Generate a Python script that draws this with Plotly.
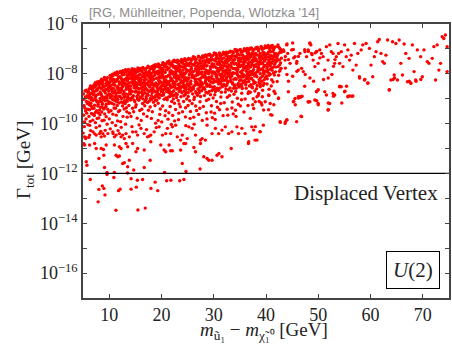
import plotly.graph_objects as go

# Each point: (m_u1 - m_chi1 [GeV], log10(Gamma_tot / GeV))
dense_5_13 = [
(5.07,-8.81),(5.63,-8.66),(5.34,-9.37),(5.91,-8.74),(5.18,-9.02),(5.72,-9.58),(5.45,-8.93),(5.26,-10.12),(5.84,-9.19),(5.12,-9.66),(5.58,-9.81),(5.39,-8.69),(5.95,-10.04),(5.21,-9.28),(5.67,-9.11),(5.03,-10.38),(5.49,-9.49),(5.79,-8.88),(5.31,-9.93),(5.55,-10.56),(5.15,-10.81),(5.88,-9.42),
(6.42,-8.49),(6.08,-8.97),(6.77,-8.62),(6.25,-9.44),(6.93,-9.07),(6.56,-8.78),(6.14,-9.71),(6.69,-9.33),(6.35,-8.58),(6.87,-9.86),(6.02,-8.71),(6.51,-9.18),(6.81,-8.51),(6.29,-10.07),(6.62,-9.59),(6.19,-9.24),(6.96,-8.84),(6.46,-10.28),(6.73,-9.02),(6.11,-10.55),(6.58,-8.95),(6.38,-9.91),
(7.13,-8.44),(7.66,-8.33),(7.41,-8.91),(7.88,-8.57),(7.22,-9.26),(7.54,-8.68),(7.03,-8.79),(7.79,-9.13),(7.35,-8.36),(7.6,-9.48),(7.17,-9.67),(7.93,-8.82),(7.47,-9.04),(7.28,-8.52),(7.71,-9.79),(7.09,-9.38),(7.52,-10.16),(7.84,-9.29),(7.38,-9.96),(7.64,-8.62),(7.25,-10.41),(7.97,-9.57),
(8.06,-8.31),(8.53,-8.22),(8.81,-8.47),(8.29,-8.73),(8.67,-8.91),(8.14,-9.11),(8.44,-8.39),(8.92,-8.66),(8.36,-9.34),(8.72,-9.22),(8.21,-8.56),(8.58,-9.53),(8.03,-9.77),(8.87,-9.02),(8.48,-8.84),(8.65,-9.88),(8.18,-10.09),(8.95,-9.41),(8.39,-10.31),(8.77,-8.27),(8.25,-9.64),(8.61,-9.14),
(9.11,-8.15),(9.57,-8.29),(9.34,-8.62),(9.82,-8.43),(9.05,-8.51),(9.68,-8.87),(9.22,-9.08),(9.46,-8.21),(9.91,-9.19),(9.29,-8.77),(9.74,-9.42),(9.16,-9.61),(9.53,-8.98),(9.87,-8.69),(9.38,-9.31),(9.02,-9.86),(9.62,-10.02),(9.43,-9.72),(9.79,-8.34),(9.25,-10.27),(9.95,-9.53),(9.49,-8.4),
(10.19,-8.07),(10.63,-8.02),(10.41,-8.46),(10.88,-8.23),(10.07,-8.35),(10.55,-8.71),(10.32,-8.92),(10.79,-8.58),(10.12,-9.14),(10.67,-9.03),(10.45,-8.18),(10.94,-9.37),(10.26,-8.83),(10.71,-9.62),(10.36,-9.48),(10.03,-9.81),(10.59,-9.96),(10.84,-8.41),(10.22,-10.21),(10.49,-8.64),(10.91,-9.22),(10.14,-8.55),(10.75,-10.4),
(11.08,-7.97),(11.52,-7.92),(11.83,-8.14),(11.27,-8.31),(11.66,-8.52),(11.14,-8.68),(11.42,-8.05),(11.95,-8.42),(11.33,-8.87),(11.74,-8.75),(11.03,-9.06),(11.58,-8.22),(11.89,-9.17),(11.21,-9.38),(11.47,-8.97),(11.79,-9.51),(11.36,-9.66),(11.11,-8.46),(11.62,-9.89),(11.93,-8.61),(11.25,-10.07),(11.55,-9.27),(11.7,-10.28),
(12.16,-7.9),(12.62,-7.87),(12.38,-8.21),(12.87,-8.03),(12.05,-8.12),(12.51,-8.47),(12.29,-8.66),(12.78,-8.34),(12.11,-8.91),(12.69,-8.82),(12.44,-7.98),(12.93,-9.08),(12.23,-8.58),(12.57,-9.29),(12.34,-9.13),(12.82,-8.71),(12.02,-9.47),(12.65,-9.71),(12.47,-8.29),(12.19,-9.92),(12.89,-9.41),(12.55,-8.39),(12.31,-10.15),
(13.12,-7.83),(13.58,-7.89),(13.35,-8.16),(13.83,-7.97),(13.04,-8.38),(13.49,-8.29),(13.26,-8.62),(13.71,-8.51),(13.17,-8.81),(13.64,-8.07),(13.41,-9.02),(13.94,-8.73),(13.08,-9.19),(13.53,-8.94),(13.3,-9.36),(13.77,-9.27),(13.2,-8.46),(13.87,-9.58),(13.45,-9.74),(13.6,-8.22),(13.14,-10.02),(13.91,-8.98),(13.38,-9.52),
]

dense_14_22 = [
(14.37,-8.21),(14.82,-7.81),(14.14,-8.67),(14.59,-7.95),(14.93,-9.12),(14.26,-7.86),(14.71,-8.44),(14.48,-9.38),(14.05,-8.03),(14.64,-8.88),(14.19,-9.71),(14.87,-8.31),(14.42,-7.79),(14.76,-8.56),(14.31,-8.12),(14.98,-8.73),(14.09,-9.05),(14.55,-8.38),(14.22,-7.99),(14.69,-9.52),(14.84,-8.08),(14.13,-8.49),(14.47,-8.94),(14.35,-10.12),(14.61,-8.17),(14.91,-7.9),
(15.62,-7.79),(15.08,-8.36),(15.91,-8.02),(15.33,-7.88),(15.74,-8.61),(15.17,-9.24),(15.46,-8.15),(15.85,-9.47),(15.29,-8.53),(15.03,-7.97),(15.57,-8.84),(15.94,-7.83),(15.41,-9.01),(15.12,-8.69),(15.68,-8.27),(15.36,-9.78),(15.79,-8.42),(15.23,-8.09),(15.51,-7.76),(15.88,-8.97),(15.06,-9.33),(15.44,-8.74),(15.72,-10.05),(15.27,-8.46),(15.96,-8.19),
(16.28,-7.91),(16.73,-8.33),(16.05,-7.78),(16.52,-8.81),(16.91,-7.85),(16.17,-8.57),(16.64,-8.06),(16.39,-9.19),(16.83,-8.49),(16.11,-8.22),(16.47,-7.74),(16.95,-9.06),(16.33,-8.68),(16.58,-9.61),(16.02,-8.94),(16.77,-8.14),(16.24,-9.42),(16.68,-7.98),(16.42,-8.39),(16.87,-8.76),(16.14,-9.87),(16.55,-8.01),(16.36,-8.87),(16.81,-9.28),(16.07,-8.45),
(17.44,-7.69),(17.81,-8.24),(17.12,-7.94),(17.59,-8.71),(17.27,-8.38),(17.93,-7.8),(17.06,-8.92),(17.68,-7.88),(17.35,-9.15),(17.76,-8.53),(17.19,-8.07),(17.52,-9.46),(17.88,-8.99),(17.03,-8.59),(17.63,-8.14),(17.41,-7.73),(17.97,-8.44),(17.23,-9.71),(17.55,-8.31),(17.72,-7.97),(17.31,-8.82),(17.15,-10.24),(17.85,-9.33),(17.48,-8.02),
(18.53,-7.66),(18.09,-8.19),(18.86,-7.72),(18.31,-8.58),(18.67,-7.93),(18.14,-9.03),(18.92,-8.37),(18.45,-7.84),(18.21,-8.76),(18.78,-9.27),(18.38,-8.11),(18.04,-7.99),(18.61,-8.49),(18.96,-8.86),(18.27,-9.52),(18.73,-8.05),(18.49,-9.14),(18.17,-8.31),(18.84,-7.63),(18.58,-8.67),(18.34,-7.77),(18.07,-9.79),(18.69,-8.94),(18.42,-8.42),(18.89,-9.98),
(19.26,-7.63),(19.71,-8.09),(19.04,-8.46),(19.57,-7.74),(19.89,-8.62),(19.38,-9.18),(19.13,-7.91),(19.64,-8.83),(19.47,-8.27),(19.92,-7.82),(19.21,-8.71),(19.79,-9.41),(19.33,-8.01),(19.08,-9.06),(19.55,-8.38),(19.84,-8.17),(19.42,-7.6),(19.16,-8.56),(19.68,-9.63),(19.29,-8.92),(19.97,-8.49),(19.52,-7.98),(19.01,-10.16),(19.75,-7.69),(19.36,-9.87),
(20.41,-7.57),(20.08,-7.94),(20.83,-8.26),(20.29,-8.64),(20.66,-7.71),(20.17,-8.39),(20.94,-7.83),(20.52,-9.02),(20.36,-8.11),(20.74,-8.53),(20.03,-8.87),(20.61,-7.62),(20.23,-9.29),(20.88,-8.97),(20.47,-8.19),(20.12,-7.77),(20.79,-9.48),(20.56,-8.44),(20.32,-7.89),(20.98,-8.71),(20.19,-8.02),(20.69,-9.68),(20.44,-8.78),(20.06,-9.93),(20.86,-8.34),(20.27,-7.55),
(21.16,-7.52),(21.62,-7.93),(21.38,-8.36),(21.87,-7.66),(21.05,-8.12),(21.51,-8.71),(21.29,-7.79),(21.74,-8.49),(21.11,-9.04),(21.93,-8.22),(21.45,-7.48),(21.67,-9.31),(21.22,-8.58),(21.83,-7.87),(21.35,-8.93),(21.02,-7.71),(21.58,-8.04),(21.79,-8.82),(21.42,-9.56),(21.14,-8.41),(21.96,-9.11),(21.53,-7.61),(21.26,-9.82),(21.71,-8.28),(21.48,-8.66),(21.89,-10.03),
(22.33,-7.47),(22.78,-8.07),(22.07,-7.62),(22.55,-8.47),(22.92,-7.54),(22.19,-8.29),(22.63,-7.78),(22.41,-8.86),(22.86,-8.19),(22.12,-7.91),(22.49,-9.18),(22.97,-8.61),(22.25,-8.02),(22.71,-9.43),(22.38,-7.69),(22.04,-8.74),(22.59,-8.35),(22.82,-7.84),(22.28,-9.01),(22.67,-8.11),(22.15,-9.67),(22.45,-7.45),(22.89,-8.95),(22.52,-9.89),(22.22,-8.52),(22.74,-7.98),
]

dense_23_32 = [
(23.08,-7.45),(23.54,-7.83),(23.87,-8.31),(23.29,-7.61),(23.66,-8.68),(23.14,-8.09),(23.91,-7.57),(23.43,-8.49),(23.22,-9.07),(23.77,-7.96),(23.36,-8.21),(23.03,-8.83),(23.61,-9.32),(23.95,-8.14),(23.48,-7.72),(23.18,-8.59),(23.72,-8.92),(23.31,-9.58),(23.84,-7.42),(23.57,-8.38),(23.11,-7.88),(23.39,-9.21),(23.68,-8.03),(23.26,-9.84),(23.93,-8.76),
(24.47,-7.39),(24.12,-7.86),(24.81,-7.58),(24.34,-8.27),(24.68,-8.74),(24.06,-8.04),(24.93,-8.41),(24.55,-7.69),(24.24,-9.11),(24.77,-7.93),(24.41,-8.56),(24.16,-7.51),(24.62,-9.36),(24.88,-8.17),(24.29,-8.88),(24.51,-7.77),(24.03,-9.52),(24.72,-8.62),(24.38,-8.12),(24.97,-7.44),(24.19,-8.35),(24.59,-9.73),(24.84,-9.01),(24.44,-8.47),(24.27,-7.99),(24.66,-10.08),
(25.21,-7.38),(25.67,-7.81),(25.04,-8.22),(25.53,-7.55),(25.88,-8.57),(25.32,-8.04),(25.76,-7.46),(25.13,-8.91),(25.45,-8.36),(25.94,-7.92),(25.26,-7.67),(25.61,-8.69),(25.09,-9.27),(25.83,-8.14),(25.39,-9.08),(25.72,-7.73),(25.17,-8.46),(25.56,-9.51),(25.98,-8.81),(25.35,-7.88),(25.64,-8.29),(25.02,-7.6),(25.49,-9.79),(25.86,-9.19),(25.29,-8.63),
(26.36,-7.34),(26.81,-7.72),(26.14,-8.16),(26.58,-7.51),(26.93,-8.44),(26.27,-7.89),(26.69,-8.78),(26.04,-7.63),(26.47,-8.31),(26.86,-7.98),(26.22,-9.03),(26.63,-8.07),(26.41,-7.42),(26.97,-8.61),(26.11,-8.52),(26.54,-9.29),(26.77,-7.81),(26.31,-8.94),(26.08,-7.31),(26.72,-9.47),(26.49,-8.23),(26.18,-9.74),(26.89,-8.86),(26.44,-7.57),(26.61,-8.39),(26.25,-10.02),
(27.09,-7.29),(27.56,-7.68),(27.84,-8.12),(27.31,-7.46),(27.67,-8.47),(27.15,-7.83),(27.92,-7.37),(27.43,-8.29),(27.23,-8.76),(27.78,-7.93),(27.38,-9.12),(27.02,-8.04),(27.61,-7.57),(27.96,-8.59),(27.48,-8.91),(27.18,-7.72),(27.73,-8.36),(27.34,-9.38),(27.87,-7.28),(27.53,-8.18),(27.12,-9.63),(27.41,-7.99),(27.69,-8.68),(27.27,-8.43),(27.81,-9.87),
(28.44,-7.24),(28.11,-7.63),(28.78,-7.41),(28.32,-8.04),(28.65,-8.49),(28.05,-7.79),(28.91,-8.21),(28.52,-7.52),(28.23,-8.87),(28.74,-7.88),(28.38,-8.33),(28.16,-7.32),(28.61,-9.07),(28.87,-7.98),(28.27,-8.62),(28.55,-7.69),(28.02,-9.31),(28.69,-8.41),(28.35,-7.95),(28.96,-7.23),(28.19,-8.14),(28.58,-9.56),(28.83,-8.77),(28.47,-8.26),(28.29,-7.58),(28.71,-9.81),
(29.24,-7.21),(29.68,-7.59),(29.07,-7.99),(29.51,-7.38),(29.86,-8.36),(29.33,-7.82),(29.77,-7.27),(29.13,-8.71),(29.46,-8.18),(29.94,-7.73),(29.28,-7.48),(29.62,-8.53),(29.03,-9.02),(29.81,-7.91),(29.39,-8.84),(29.72,-7.64),(29.18,-8.29),(29.57,-9.28),(29.98,-8.62),(29.36,-7.71),(29.65,-8.09),(29.01,-7.42),(29.49,-9.53),(29.89,-8.97),(29.26,-8.44),(29.74,-9.76),
(30.38,-7.18),(30.83,-7.53),(30.12,-7.94),(30.57,-7.33),(30.91,-8.23),(30.26,-7.71),(30.68,-8.58),(30.05,-7.44),(30.46,-8.09),(30.87,-7.79),(30.21,-8.84),(30.63,-7.88),(30.41,-7.24),(30.96,-8.41),(30.14,-8.32),(30.53,-9.11),(30.76,-7.62),(30.33,-8.71),(30.09,-7.16),(30.72,-9.34),(30.49,-8.02),(30.17,-9.58),(30.89,-8.66),(30.44,-7.39),(30.61,-8.18),(30.28,-9.83),
(31.08,-7.16),(31.55,-7.51),(31.83,-7.93),(31.29,-7.29),(31.66,-8.28),(31.14,-7.64),(31.91,-7.19),(31.42,-8.12),(31.22,-8.57),(31.77,-7.76),(31.37,-8.93),(31.03,-7.87),(31.6,-7.41),(31.95,-8.42),(31.47,-8.74),(31.17,-7.57),(31.71,-8.19),(31.33,-9.19),(31.86,-7.13),(31.52,-8.01),(31.11,-9.44),(31.4,-7.81),(31.68,-8.51),(31.26,-8.27),(31.8,-9.68),
(32.43,-7.13),(32.1,-7.52),(32.77,-7.31),(32.31,-7.92),(32.64,-8.36),(32.04,-7.67),(32.9,-8.08),(32.51,-7.41),(32.22,-8.73),(32.73,-7.77),(32.37,-8.22),(32.15,-7.21),(32.6,-8.94),(32.86,-7.86),(32.26,-8.49),(32.54,-7.58),(32.01,-9.16),(32.68,-8.29),(32.34,-7.84),(32.95,-7.12),(32.18,-8.03),(32.57,-9.42),(32.82,-8.64),(32.46,-8.14),(32.28,-7.47),(32.7,-9.66),
]

dense_33_43 = [
(33.23,-7.09),(33.67,-7.46),(33.06,-7.86),(33.5,-7.26),(33.85,-8.22),(33.32,-7.69),(33.76,-7.15),(33.12,-8.57),(33.45,-8.04),(33.93,-7.61),(33.27,-7.37),(33.61,-8.41),(33.02,-8.87),(33.8,-7.78),(33.38,-8.69),(33.71,-7.52),(33.17,-8.16),(33.56,-9.13),(33.97,-8.48),(33.35,-7.58),(33.64,-7.96),(33.01,-7.31),(33.48,-9.37),(33.88,-8.82),(33.25,-8.31),(33.73,-9.61),
(34.37,-7.04),(34.82,-7.39),(34.11,-7.81),(34.56,-7.19),(34.9,-8.11),(34.25,-7.58),(34.67,-8.46),(34.04,-7.29),(34.45,-7.96),(34.86,-7.66),(34.2,-8.71),(34.62,-7.74),(34.4,-7.11),(34.95,-8.28),(34.13,-8.19),(34.52,-8.98),(34.75,-7.49),(34.32,-8.58),(34.08,-7.02),(34.71,-9.22),(34.48,-7.88),(34.16,-9.46),(34.88,-8.53),(34.43,-7.26),(34.6,-8.06),(34.27,-9.71),
(35.07,-7.02),(35.54,-7.36),(35.82,-7.78),(35.28,-7.14),(35.65,-8.13),(35.13,-7.49),(35.9,-7.04),(35.41,-7.97),(35.21,-8.42),(35.76,-7.61),(35.36,-8.78),(35.02,-7.72),(35.59,-7.26),(35.94,-8.27),(35.46,-8.59),(35.16,-7.42),(35.7,-8.04),(35.32,-9.04),(35.85,-6.99),(35.51,-7.86),(35.1,-9.29),(35.39,-7.66),(35.67,-8.36),(35.25,-8.12),(35.79,-9.53),
(36.42,-6.98),(36.09,-7.37),(36.76,-7.16),(36.3,-7.77),(36.63,-8.21),(36.03,-7.52),(36.89,-7.93),(36.5,-7.26),(36.21,-8.58),(36.72,-7.62),(36.36,-8.07),(36.14,-7.06),(36.59,-8.79),(36.85,-7.71),(36.25,-8.34),(36.53,-7.43),(36.0,-9.01),(36.67,-8.14),(36.33,-7.69),(36.94,-6.97),(36.17,-7.88),(36.56,-9.27),(36.81,-8.49),(36.45,-7.99),(36.27,-7.32),
(37.22,-6.96),(37.66,-7.33),(37.05,-7.73),(37.49,-7.13),(37.84,-8.09),(37.31,-7.56),(37.75,-7.02),(37.11,-8.44),(37.44,-7.91),(37.92,-7.48),(37.26,-7.24),(37.6,-8.28),(37.01,-8.74),(37.79,-7.65),(37.37,-8.56),(37.7,-7.39),(37.16,-8.03),(37.55,-9.0),(37.96,-8.35),(37.34,-7.45),(37.63,-7.83),(37.47,-9.24),(37.87,-8.69),(37.24,-8.18),
(38.36,-6.93),(38.81,-7.28),(38.1,-7.7),(38.55,-7.08),(38.89,-8.0),(38.24,-7.47),(38.66,-8.35),(38.03,-7.18),(38.44,-7.85),(38.85,-7.55),(38.19,-8.6),(38.61,-7.63),(38.39,-7.0),(38.94,-8.17),(38.12,-8.08),(38.51,-8.87),(38.74,-7.38),(38.31,-8.47),(38.07,-6.95),(38.7,-9.11),(38.47,-7.77),(38.92,-8.42),(38.28,-7.92),
(39.06,-6.9),(39.53,-7.24),(39.81,-7.66),(39.27,-7.02),(39.64,-8.01),(39.12,-7.37),(39.89,-6.94),(39.4,-7.85),(39.2,-8.3),(39.75,-7.49),(39.35,-8.66),(39.01,-7.6),(39.58,-7.14),(39.93,-8.15),(39.45,-8.47),(39.15,-7.3),(39.69,-7.92),(39.31,-8.92),(39.84,-6.88),(39.5,-7.74),(39.09,-9.17),(39.38,-7.55),(39.66,-8.24),
(40.41,-6.86),(40.08,-7.21),(40.75,-7.03),(40.29,-7.62),(40.62,-8.06),(40.02,-7.41),(40.88,-7.81),(40.49,-7.12),(40.2,-8.41),(40.71,-7.51),(40.35,-7.94),(40.13,-6.95),(40.58,-8.62),(40.84,-7.69),(40.24,-8.2),(40.53,-7.33),(40.66,-8.0),(40.32,-7.56),(40.93,-6.89),(40.16,-7.77),(40.55,-8.87),
(41.21,-6.86),(41.66,-7.19),(41.04,-7.58),(41.48,-6.99),(41.83,-7.92),(41.3,-7.39),(41.74,-6.92),(41.1,-8.24),(41.43,-7.72),(41.91,-7.31),(41.25,-7.11),(41.59,-8.05),(41.01,-8.49),(41.79,-7.55),(41.36,-8.33),(41.7,-7.24),(41.16,-7.86),(41.54,-8.7),
(42.3,-6.84),(42.72,-7.12),(42.08,-7.49),(42.52,-6.95),(42.88,-7.78),(42.19,-7.26),(42.63,-7.64),(42.41,-8.06),(42.94,-7.37),(42.14,-8.31),(42.57,-7.9),(42.8,-7.03),
]

dense_upper_extra = [
(6.17,-8.61),(6.64,-8.53),(6.33,-8.82),(6.88,-8.69),(6.05,-9.14),(6.48,-9.27),(6.79,-9.39),(6.24,-8.9),(6.91,-9.63),(6.55,-9.04),
(7.44,-8.47),(7.06,-8.55),(7.83,-8.41),(7.29,-8.97),(7.62,-9.11),(7.15,-8.71),(7.91,-9.22),(7.5,-8.86),(7.37,-9.55),(7.74,-8.64),
(8.33,-8.3),(8.71,-8.36),(8.09,-8.45),(8.55,-8.59),(8.92,-8.97),(8.27,-8.99),(8.63,-9.33),(8.41,-8.79),(8.84,-8.52),(8.17,-9.45),(8.5,-9.08),
(9.19,-8.24),(9.66,-8.16),(9.38,-8.39),(9.84,-8.58),(9.08,-8.7),(9.55,-8.47),(9.27,-8.93),(9.72,-9.08),(9.44,-9.22),(9.97,-8.81),(9.13,-9.37),(9.61,-8.63),
(10.28,-8.12),(10.74,-8.08),(10.51,-8.29),(10.09,-8.48),(10.93,-8.36),(10.39,-8.61),(10.82,-8.77),(10.17,-8.96),(10.6,-8.89),(10.47,-9.18),(10.98,-9.05),(10.24,-8.23),
(11.19,-8.02),(11.63,-8.01),(11.41,-8.26),(11.87,-8.32),(11.04,-8.25),(11.5,-8.57),(11.77,-8.63),(11.29,-8.79),(11.92,-8.9),(11.44,-9.12),(11.12,-8.94),(11.68,-9.03),
(12.08,-7.95),(12.53,-8.05),(12.76,-7.96),(12.27,-8.37),(12.93,-8.24),(12.41,-8.61),(12.61,-8.51),(12.14,-8.75),(12.84,-8.94),(12.36,-8.99),(12.71,-9.17),(12.22,-8.17),
(13.22,-7.92),(13.69,-7.82),(13.43,-8.04),(13.91,-8.18),(13.12,-8.21),(13.56,-8.43),(13.79,-8.63),(13.33,-8.56),(13.02,-8.91),(13.64,-8.83),(13.47,-9.1),(13.86,-8.37),
(14.16,-7.91),(14.52,-8.05),(14.89,-8.19),(14.29,-8.33),(14.74,-7.88),(14.04,-8.6),(14.44,-8.71),(14.66,-8.26),(14.96,-8.47),(14.33,-8.98),(14.79,-9.06),(14.11,-8.81),
(15.13,-7.84),(15.49,-7.91),(15.84,-7.87),(15.22,-8.19),(15.66,-8.06),(15.39,-8.38),(15.95,-8.33),(15.04,-8.57),(15.57,-8.59),(15.81,-8.75),(15.3,-8.91),(15.69,-9.06),
(16.21,-7.83),(16.62,-7.81),(16.89,-7.97),(16.35,-8.11),(16.74,-8.25),(16.09,-8.29),(16.5,-8.52),(16.96,-8.41),(16.28,-8.77),(16.69,-8.64),(16.44,-9.0),(16.83,-9.12),
(17.17,-7.77),(17.64,-7.74),(17.38,-8.01),(17.85,-8.08),(17.07,-8.22),(17.51,-8.46),(17.78,-8.33),(17.29,-8.65),(17.94,-8.67),(17.45,-8.86),(17.12,-9.0),(17.71,-9.09),
(18.19,-7.7),(18.63,-7.79),(18.42,-7.93),(18.94,-7.96),(18.08,-8.08),(18.55,-8.22),(18.79,-8.43),(18.27,-8.41),(18.71,-8.72),(18.37,-8.63),(18.12,-8.88),(18.87,-9.05),(18.48,-8.95),
(19.18,-7.71),(19.62,-7.66),(19.44,-7.88),(19.93,-7.93),(19.07,-8.18),(19.51,-8.14),(19.81,-8.32),(19.31,-8.45),(19.74,-8.56),(19.23,-8.79),(19.59,-8.97),(19.96,-8.71),(19.39,-8.63),
(20.15,-7.63),(20.55,-7.67),(20.91,-7.59),(20.34,-7.81),(20.72,-7.95),(20.06,-8.09),(20.49,-8.31),(20.84,-8.12),(20.26,-8.49),(20.63,-8.62),(20.4,-8.85),(20.97,-8.45),(20.2,-8.72),
(21.24,-7.56),(21.68,-7.58),(21.09,-7.84),(21.49,-7.76),(21.91,-7.97),(21.33,-8.07),(21.77,-8.16),(21.18,-8.31),(21.56,-8.44),(21.86,-8.55),(21.41,-8.76),(21.06,-8.64),(21.64,-8.91),
(22.11,-7.52),(22.58,-7.51),(22.84,-7.7),(22.3,-7.74),(22.69,-7.92),(22.04,-7.96),(22.47,-8.14),(22.92,-8.28),(22.21,-8.39),(22.62,-8.55),(22.37,-8.68),(22.79,-8.79),(22.16,-8.88),
(23.21,-7.49),(23.64,-7.5),(23.45,-7.67),(23.92,-7.71),(23.06,-7.78),(23.52,-7.92),(23.81,-8.06),(23.34,-8.15),(23.74,-8.27),(23.14,-8.43),(23.58,-8.58),(23.41,-8.71),(23.88,-8.53),
(24.22,-7.46),(24.64,-7.47),(24.91,-7.66),(24.35,-7.62),(24.79,-7.83),(24.09,-7.74),(24.53,-7.99),(24.43,-8.21),(24.86,-8.3),(24.14,-8.47),(24.71,-8.54),(24.31,-8.69),(24.57,-8.83),
(25.14,-7.43),(25.59,-7.4),(25.84,-7.61),(25.37,-7.59),(25.71,-7.8),(25.06,-7.86),(25.47,-7.97),(25.91,-8.04),(25.24,-8.17),(25.66,-8.41),(25.42,-8.53),(25.79,-8.65),(25.11,-8.76),
(26.19,-7.38),(26.66,-7.41),(26.93,-7.57),(26.32,-7.66),(26.75,-7.69),(26.02,-7.92),(26.51,-7.79),(26.87,-7.9),(26.27,-8.1),(26.61,-8.22),(26.39,-8.46),(26.83,-8.35),(26.13,-8.61),(26.55,-8.72),
(27.19,-7.33),(27.63,-7.36),(27.45,-7.56),(27.91,-7.49),(27.06,-7.61),(27.52,-7.8),(27.76,-7.71),(27.28,-7.95),(27.69,-8.01),(27.13,-8.22),(27.57,-8.36),(27.36,-8.54),(27.84,-8.42),(27.22,-8.68),
(28.14,-7.28),(28.57,-7.31),(28.83,-7.5),(28.36,-7.47),(28.72,-7.67),(28.07,-7.71),(28.49,-7.84),(28.94,-7.91),(28.24,-8.07),(28.64,-8.16),(28.41,-8.37),(28.79,-8.49),(28.12,-8.56),(28.53,-8.74),
(29.15,-7.25),(29.58,-7.29),(29.43,-7.46),(29.88,-7.44),(29.04,-7.56),(29.51,-7.73),(29.79,-7.62),(29.32,-7.9),(29.69,-7.97),(29.11,-8.14),(29.55,-8.33),(29.92,-8.22),(29.27,-8.51),(29.63,-8.68),
(30.23,-7.21),(30.66,-7.26),(30.92,-7.39),(30.35,-7.49),(30.74,-7.58),(30.05,-7.61),(30.52,-7.76),(30.88,-7.92),(30.18,-7.99),(30.59,-8.11),(30.42,-8.29),(30.81,-8.34),(30.12,-8.52),(30.47,-8.63),
(31.2,-7.2),(31.64,-7.22),(31.49,-7.38),(31.93,-7.36),(31.07,-7.48),(31.56,-7.66),(31.82,-7.55),(31.31,-7.74),(31.73,-7.87),(31.14,-8.03),(31.45,-8.19),(31.87,-8.09),(31.28,-8.38),(31.61,-8.46),(31.02,-8.31),
(32.19,-7.17),(32.61,-7.18),(32.87,-7.35),(32.38,-7.28),(32.74,-7.49),(32.07,-7.58),(32.48,-7.71),(32.92,-7.66),(32.26,-7.88),(32.66,-7.97),(32.43,-8.15),(32.81,-8.03),(32.12,-8.26),(32.53,-8.45),(32.33,-8.61),
(33.14,-7.13),(33.59,-7.11),(33.41,-7.3),(33.87,-7.29),(33.06,-7.45),(33.53,-7.57),(33.78,-7.43),(33.29,-7.74),(33.69,-7.79),(33.11,-7.97),(33.47,-8.09),(33.94,-7.98),(33.24,-8.27),(33.62,-8.36),(33.82,-8.58),
(34.24,-7.08),(34.66,-7.06),(34.91,-7.24),(34.38,-7.33),(34.77,-7.41),(34.03,-7.43),(34.51,-7.64),(34.86,-7.56),(34.17,-7.78),(34.59,-7.82),(34.44,-8.01),(34.82,-8.14),(34.29,-8.22),(34.69,-8.39),(34.09,-8.45),
(35.19,-7.06),(35.63,-7.09),(35.47,-7.23),(35.92,-7.31),(35.05,-7.36),(35.56,-7.54),(35.78,-7.44),(35.31,-7.67),(35.72,-7.74),(35.12,-7.93),(35.44,-8.03),(35.88,-8.08),(35.24,-8.24),(35.61,-8.31),(35.37,-8.51),
(36.22,-7.02),(36.68,-7.05),(36.91,-7.23),(36.39,-7.15),(36.77,-7.38),(36.06,-7.44),(36.54,-7.57),(36.86,-7.52),(36.15,-7.7),(36.62,-7.81),(36.43,-7.94),(36.83,-8.06),(36.29,-8.19),(36.71,-8.31),(36.11,-8.44),
(37.17,-7.01),(37.61,-7.04),(37.43,-7.2),(37.89,-7.26),(37.03,-7.31),(37.54,-7.5),(37.77,-7.41),(37.29,-7.64),(37.71,-7.72),(37.09,-7.9),(37.46,-8.02),(37.93,-7.98),(37.21,-8.2),(37.65,-8.39),(37.38,-8.55),
(38.21,-6.98),(38.64,-7.0),(38.88,-7.18),(38.36,-7.25),(38.76,-7.31),(38.05,-7.39),(38.52,-7.54),(38.93,-7.47),(38.15,-7.62),(38.59,-7.74),(38.41,-7.91),(38.82,-7.85),(38.27,-8.12),(38.69,-8.24),
(39.18,-6.95),(39.62,-6.98),(39.43,-7.13),(39.87,-7.21),(39.02,-7.27),(39.55,-7.42),(39.77,-7.33),(39.27,-7.59),(39.71,-7.66),(39.11,-7.81),(39.48,-7.96),(39.91,-7.88),(39.33,-8.1),(39.63,-8.39),
(40.19,-6.91),(40.61,-6.96),(40.86,-7.12),(40.37,-7.19),(40.74,-7.27),(40.04,-7.31),(40.52,-7.45),(40.91,-7.39),(40.27,-7.71),(40.68,-7.59),(40.44,-7.85),(40.81,-8.02),(40.11,-8.09),
(41.13,-6.94),(41.57,-6.95),(41.39,-7.06),(41.82,-7.18),(41.07,-7.27),(41.51,-7.32),(41.76,-7.45),(41.28,-7.5),(41.64,-7.62),(41.19,-7.77),(41.45,-7.97),(41.88,-7.73),
(42.24,-6.9),(42.68,-6.99),(42.45,-7.17),(42.91,-7.13),(42.12,-7.38),(42.57,-7.45),(42.79,-7.56),(42.33,-7.71),(42.71,-7.84),
]

sparse_right = [
(43.33,-7.04),(43.65,-7.45),(43.96,-6.84),(44.15,-7.18),(44.6,-7.58),(44.91,-7.04),(45.23,-7.02),(45.55,-7.31),(45.86,-7.58),(46.18,-7.85),
(46.49,-7.18),(46.81,-7.78),(47.13,-7.91),(47.44,-7.11),(47.76,-7.31),(48.07,-7.04),(48.39,-6.78),(48.58,-6.84),(48.71,-7.18),(49.02,-7.45),
(49.34,-7.71),(49.66,-7.11),(49.97,-7.58),(50.29,-7.04),(50.6,-7.18),(50.92,-7.31),(51.24,-7.85),(51.55,-6.91),(51.87,-7.45),(52.19,-6.84),
(52.5,-7.11),(52.82,-7.18),(53.13,-7.58),(53.45,-7.31),(53.77,-6.78),(53.89,-7.18),(54.08,-7.58),(54.4,-7.11),(54.72,-7.71),(55.03,-6.84),
(55.35,-7.31),(55.66,-7.04),(55.98,-7.45),(56.3,-7.25),(56.61,-7.85),(56.93,-6.78),(57.25,-7.65),(57.56,-7.18),(57.88,-8.12),(58.2,-7.04),
(58.51,-6.84),(58.83,-8.25),(59.14,-6.78),(59.46,-8.38),(59.78,-6.98),(60.09,-7.65),(60.41,-8.12),(60.72,-7.31),(61.04,-7.11),(61.36,-6.71),
(61.67,-6.62),(61.99,-7.18),(62.31,-7.51),(62.62,-7.58),(62.94,-7.25),(63.26,-6.64),(63.57,-8.65),(63.89,-8.25),(64.2,-6.71),(64.52,-8.05),
(64.84,-6.78),(65.15,-8.25),(65.47,-6.64),(65.79,-7.58),(66.1,-8.05),(66.42,-6.8),(66.73,-7.18),(67.05,-8.32),(67.37,-7.38),(67.68,-8.38),
(68.0,-6.84),(68.32,-7.91),(68.63,-8.25),(68.95,-7.04),(69.58,-7.31),(69.9,-8.12),(70.21,-7.04),(70.85,-7.51),(71.16,-7.58),(71.79,-7.38),
(72.11,-6.91),(72.43,-8.25),(72.74,-6.84),(73.06,-7.85),(73.38,-7.58),(73.69,-6.51),(74.01,-6.58),(74.32,-6.44),(74.64,-6.91),(74.64,-7.91),
(44.02,-6.8),(45.1,-6.76),(43.4,-7.1),(43.7,-7.3),(44.3,-7.43),(45.3,-7.36),(45.9,-7.5),(46.2,-7.3),(47.4,-7.03),(48.1,-7.1),
(48.4,-6.76),(48.8,-7.23),(49.4,-7.16),(49.7,-7.1),(50.3,-7.36),(43.7,-7.77),(44.0,-8.03),(44.3,-8.3),(45.1,-8.1),(45.9,-7.9),
(47.5,-8.03),(47.4,-8.5),(48.4,-8.17),(49.1,-8.3),(49.7,-8.7),(50.0,-8.64),(51.0,-8.23),(51.9,-8.17),(52.6,-8.03),(52.9,-7.7),(53.2,-7.43),
]

sparse_mid_low = [
(44.28,-8.72),(45.23,-9.12),(45.55,-8.99),(45.86,-9.92),(46.18,-8.92),(46.49,-8.92),(46.81,-9.72),(48.07,-9.12),(48.39,-9.12),(49.34,-9.05),
(49.66,-8.72),(49.97,-9.19),(51.24,-8.72),(51.55,-8.85),(51.87,-9.45),(52.19,-9.19),(52.82,-8.79),(53.13,-8.85),(54.08,-8.52),(54.4,-8.52),
(55.03,-8.72),(55.66,-8.92),(55.98,-8.89),(56.61,-8.89),(43.65,-9.99),(43.96,-9.86),(42.7,-9.92),(41.12,-9.66),(41.75,-8.79),(42.38,-8.99),
(40.49,-8.85),(40.8,-9.19),(39.22,-9.25),(39.54,-9.45),(39.85,-9.12),(38.9,-8.52),(38.59,-8.79),(38.27,-8.92),(37.96,-9.12),(37.64,-9.39),
(37.32,-8.52),(36.69,-8.72),(37.0,-9.79),(37.64,-10.26),(37.96,-10.12),(38.9,-10.32),(38.27,-10.66),(36.69,-10.73),
(40.5,-9.44),(40.9,-9.64),(41.5,-9.24),(42.4,-8.97),(42.75,-9.95),(43.7,-9.93),(44.0,-9.84),(45.3,-9.1),(45.6,-9.24),(46.2,-8.97),
(46.6,-8.94),(46.9,-8.9),(46.7,-9.7),(48.1,-9.13),(49.7,-9.08),(50.0,-9.24),(51.9,-9.17),(51.9,-9.44),(52.9,-8.9),(54.1,-8.5),
(54.5,-9.17),(55.4,-8.5),(55.1,-8.7),(55.7,-8.9),(56.4,-8.9),(57.9,-8.17),(58.9,-8.23),(59.5,-8.37),(63.6,-8.64),(64.3,-8.23),
(64.6,-8.17),(67.4,-8.3),(67.7,-8.37),(68.7,-8.3),(69.6,-8.23),
]

sparse_left_low = [
(5.32,-10.53),(5.51,-10.6),(6.27,-10.46),(6.9,-10.33),(7.53,-10.46),(8.16,-10.4),(8.48,-10.53),(8.8,-10.4),(9.11,-10.5),(9.75,-10.4),
(10.7,-10.33),(11.01,-10.53),(11.33,-10.46),(11.96,-10.4),(12.28,-10.53),(12.59,-10.46),(12.91,-10.6),(13.23,-10.4),(13.86,-10.53),(14.49,-10.33),
(15.13,-10.33),(15.44,-10.46),(16.08,-10.19),(16.71,-10.4),(17.34,-10.53),(17.66,-10.5),(17.97,-10.46),(18.61,-10.33),(19.56,-10.13),(20.19,-10.46),
(20.82,-10.4),(21.14,-10.19),(21.77,-10.4),(22.09,-10.13),(22.72,-10.06),(23.04,-10.53),(23.67,-10.66),(23.99,-10.46),(24.3,-10.8),(24.94,-10.6),
(25.25,-10.13),(25.89,-10.19),(26.52,-10.46),(27.47,-10.8),(27.78,-10.6),(28.42,-10.66),(28.73,-10.06),(29.68,-10.4),(30.32,-10.19),(30.95,-10.4),
(31.58,-10.26),(32.22,-10.13),(32.85,-10.4),(33.48,-10.33),(34.43,-10.13),(34.75,-10.4),(35.38,-10.19),(36.01,-10.4),(36.65,-10.8),(37.28,-10.13),
(37.91,-10.66),(38.86,-10.33),(39.49,-10.06),
(5.32,-10.86),(6.27,-10.86),(7.22,-10.8),(7.53,-11.0),(8.48,-11.0),(8.92,-11.04),(9.43,-10.86),(11.01,-10.86),(11.96,-10.93),(12.28,-11.0),
(13.23,-10.8),(13.54,-10.93),(14.49,-10.8),(15.13,-11.13),(15.44,-11.0),(16.71,-11.06),(17.97,-10.73),(19.87,-10.86),(20.51,-11.06),(20.82,-11.13),
(21.46,-10.86),(21.77,-11.09),(22.09,-11.09),(23.67,-11.06),(24.62,-10.8),(26.2,-10.96),(26.52,-11.13),(27.47,-10.66),(28.1,-11.33),(28.73,-11.4),
(29.05,-11.47),(29.68,-11.47),(30.63,-11.27),(31.0,-11.2),(31.58,-11.33),(33.35,-11.0),
(5.63,-11.53),(5.76,-11.67),(8.04,-11.4),(8.99,-11.27),(9.11,-11.76),(11.33,-11.27),(11.65,-11.33),(11.96,-11.3),(12.59,-11.6),(12.91,-11.57),
(13.86,-11.47),(13.54,-11.73),(16.71,-11.76),(17.85,-11.47),(23.99,-11.6),
(11.0,-11.96),(9.6,-11.96),(9.6,-12.04),(13.5,-11.98),(14.7,-11.86),(20.6,-11.96),(24.7,-11.92),(27.4,-11.82),
]

below_line = [
(6.39,-12.24),(8.04,-12.64),(8.7,-12.5),(9.0,-12.6),(9.2,-12.86),(7.9,-13.14),(10.9,-12.16),(11.8,-12.69),(12.1,-12.63),(11.3,-13.48),
(14.2,-12.21),(14.2,-12.63),(15.4,-12.27),(15.2,-12.55),(16.4,-12.24),(15.5,-13.47),(16.9,-13.39),(18.0,-12.6),(18.8,-12.35),(19.3,-12.69),
(21.0,-12.29),(21.8,-12.27),(23.5,-12.29),(24.3,-12.24),
]

groups = [dense_5_13, dense_14_22, dense_23_32, dense_33_43, dense_upper_extra,
          sparse_right, sparse_mid_low, sparse_left_low, below_line]
mass_diff = [p[0] for g in groups for p in g]
gamma_tot = [10 ** p[1] for g in groups for p in g]

x_range = [5, 75]
x_ticks = [10, 20, 30, 40, 50, 60, 70]
y_decades = list(range(-17, -5))
y_tickvals = [10.0 ** d for d in y_decades]
y_ticktext = [("10<sup>\u2212%d</sup>" % (-d)) if d % 2 == 0 else "" for d in y_decades]
dv_limit = 1e-12

serif = "Liberation Serif, Times New Roman, serif"

fig = go.Figure()
fig.add_trace(go.Scatter(
    x=mass_diff, y=gamma_tot, mode="markers",
    marker=dict(color="#ff0000", size=3.4, line=dict(width=0)),
    hoverinfo="skip", showlegend=False))
fig.add_trace(go.Scatter(
    x=x_range, y=[dv_limit, dv_limit], mode="lines",
    line=dict(color="black", width=1.3), hoverinfo="skip", showlegend=False))

axis_common = dict(showline=True, linecolor="#444", linewidth=1.5, mirror="ticks",
                   ticks="inside", ticklen=4, tickcolor="#444", tickwidth=1,
                   showgrid=False, zeroline=False,
                   tickfont=dict(family=serif, size=18, color="#222"))

fig.update_xaxes(range=x_range, tickvals=x_ticks, **axis_common)
fig.update_yaxes(type="log", range=[-17, -6], tickvals=y_tickvals, ticktext=y_ticktext,
                 **axis_common)

fig.update_layout(
    width=452, height=345,
    margin=dict(l=83, r=1, t=24, b=47),
    paper_bgcolor="white", plot_bgcolor="white",
    annotations=[
        dict(text="[RG, Mühlleitner, Popenda, Wlotzka '14]", xref="paper", yref="paper",
             x=0.012, y=1.042, xanchor="left", yanchor="middle", showarrow=False,
             font=dict(family="Liberation Sans, Arial, sans-serif", size=13, color="#8c8c8c")),
        dict(text="Displaced Vertex", xref="x", yref="y", x=73.2, y=-12.79,
             xanchor="right", yanchor="middle", showarrow=False,
             font=dict(family=serif, size=21, color="#222")),
        dict(text="<i>U</i>(2)", xref="paper", yref="paper", x=0.901, y=0.102,
             xanchor="center", yanchor="middle", showarrow=False,
             bordercolor="black", borderwidth=1, borderpad=6, bgcolor="white",
             font=dict(family=serif, size=21, color="#222")),
        dict(text="\u0393<sub>tot</sub> [GeV]", xref="paper", yref="paper",
             x=-0.158, y=0.504, xanchor="center", yanchor="middle", textangle=-90,
             showarrow=False, font=dict(family=serif, size=19, color="#222")),
        dict(text="<i>m</i><sub>\u0169\u2081</sub> \u2212 <i>m</i><sub>\u03c7\u0303\u2081\u2070</sub> [GeV]",
             xref="paper", yref="paper", x=0.495, y=-0.12, xanchor="center", yanchor="middle",
             showarrow=False, font=dict(family=serif, size=19, color="#222")),
    ],
)

fig.write_html("out.html", config={"displayModeBar": False},
               post_script="document.body.style.margin='0';")
